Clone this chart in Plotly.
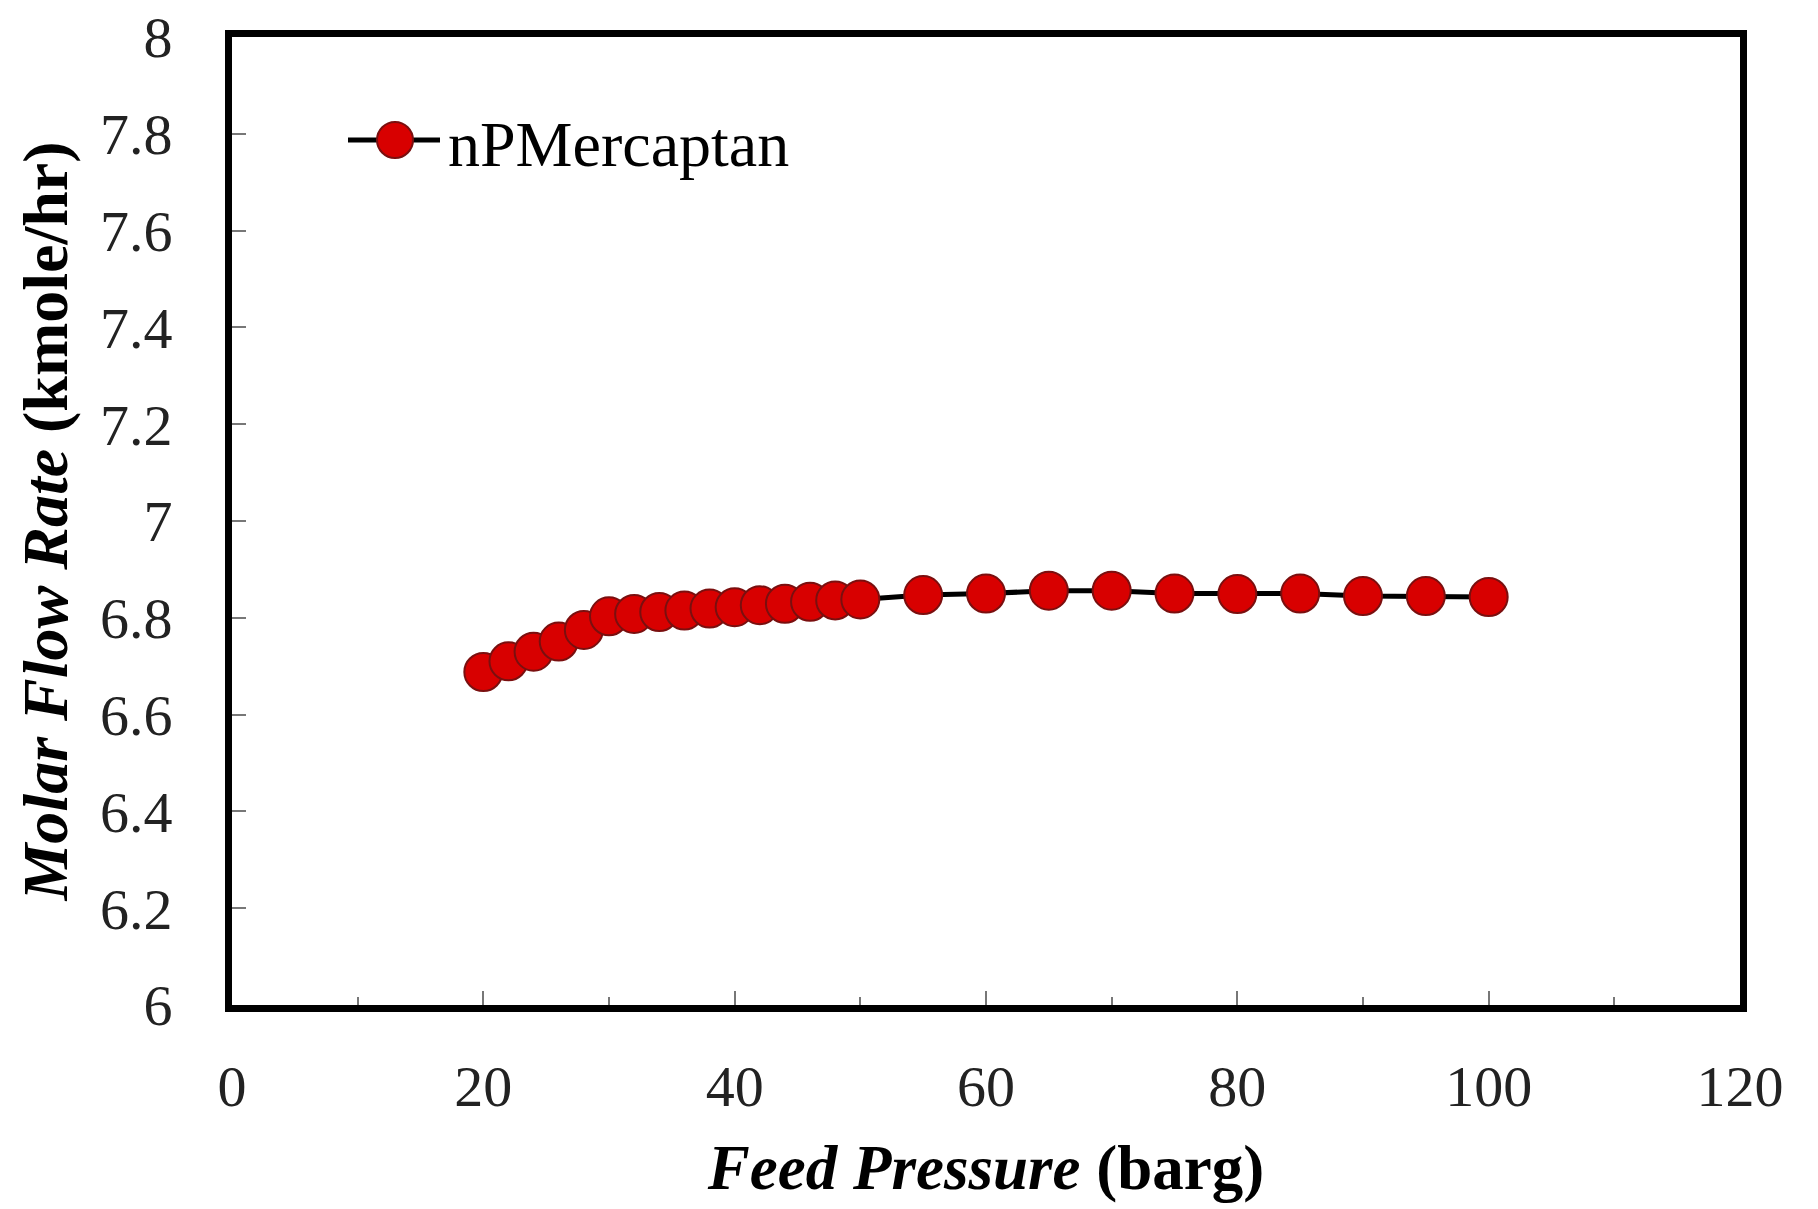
import plotly.graph_objects as go

pressure = [20, 22, 24, 26, 28, 30, 32, 34, 36, 38, 40, 42, 44, 46, 48, 50,
            55, 60, 65, 70, 75, 80, 85, 90, 95, 100]
flow = [6.688, 6.710, 6.730, 6.751, 6.775, 6.803, 6.808, 6.812, 6.815, 6.819,
        6.822, 6.826, 6.829, 6.833, 6.836, 6.838,
        6.847, 6.850, 6.856, 6.856, 6.850, 6.849, 6.850, 6.845, 6.845, 6.843]
series_name = "nPMercaptan"
x_ticks = [0, 20, 40, 60, 80, 100, 120]
y_ticks = [6, 6.2, 6.4, 6.6, 6.8, 7, 7.2, 7.4, 7.6, 7.8, 8]
y_ticklabels = ["6", "6.2", "6.4", "6.6", "6.8", "7", "7.2", "7.4", "7.6", "7.8", "8"]

FONT = "Liberation Serif, Times New Roman, serif"
RED = "#d80000"
EDGE = "#7a0f0f"

fig = go.Figure()
fig.add_trace(go.Scatter(
    x=pressure, y=flow, mode="lines+markers", name=series_name,
    line=dict(color="black", width=5),
    marker=dict(size=38, color=RED, line=dict(color=EDGE, width=2)),
    showlegend=False,
))

L, R, T, B = 232, 78, 37, 204
W, H = 1818, 1209
pw, ph = W - L - R, H - T - B

def px(xp):
    return (xp - L) / pw

def py(yp):
    return 1 - (yp - T) / ph

# legend drawn manually (long line segment with large marker)
leg_y = py(140)
fig.add_shape(type="line", xref="paper", yref="paper",
              x0=px(348), x1=px(440), y0=leg_y, y1=leg_y,
              line=dict(color="black", width=5))
fig.add_shape(type="circle", xref="paper", yref="paper",
              x0=px(395 - 18), x1=px(395 + 18), y0=py(140 + 18), y1=py(140 - 18),
              fillcolor=RED, line=dict(color=EDGE, width=2))
fig.add_annotation(xref="paper", yref="paper", x=px(446), y=py(144),
                   xanchor="left", yanchor="middle", showarrow=False,
                   text=series_name, font=dict(family=FONT, size=64, color="black"))

fig.update_layout(
    width=W, height=H,
    margin=dict(l=L, r=R, t=T, b=B, autoexpand=False),
    paper_bgcolor="white", plot_bgcolor="white",
    font=dict(family=FONT, size=58, color="black"),
    showlegend=False,
    xaxis=dict(
        range=[0, 120], tickvals=x_ticks, ticktext=[str(v) for v in x_ticks],
        showgrid=False, zeroline=False, automargin=False,
        showline=True, linecolor="black", linewidth=7, mirror=True,
        ticks="inside", ticklen=14, tickwidth=1.5, tickcolor="#777",
        minor=dict(ticks="inside", ticklen=8, tickwidth=1.5, tickcolor="#777", dtick=10, showgrid=False),
        ticklabelstandoff=24,
        tickfont=dict(family=FONT, size=58, color="#222"),
        title=dict(text="<b><i>Feed Pressure</i> (barg)</b>", standoff=30,
                   font=dict(family=FONT, size=63, color="black")),
    ),
    yaxis=dict(
        range=[6, 8], tickvals=y_ticks, ticktext=y_ticklabels,
        showgrid=False, zeroline=False, automargin=False,
        showline=True, linecolor="black", linewidth=7, mirror=True,
        ticks="inside", ticklen=14, tickwidth=1.5, tickcolor="#777",
        ticklabelstandoff=41,
        tickfont=dict(family=FONT, size=58, color="#222"),
        title=dict(text="<b><i>Molar Flow Rate</i> (kmole/hr)</b>", standoff=14,
                   font=dict(family=FONT, size=64, color="black")),
    ),
)

fig.write_html("out.html")
